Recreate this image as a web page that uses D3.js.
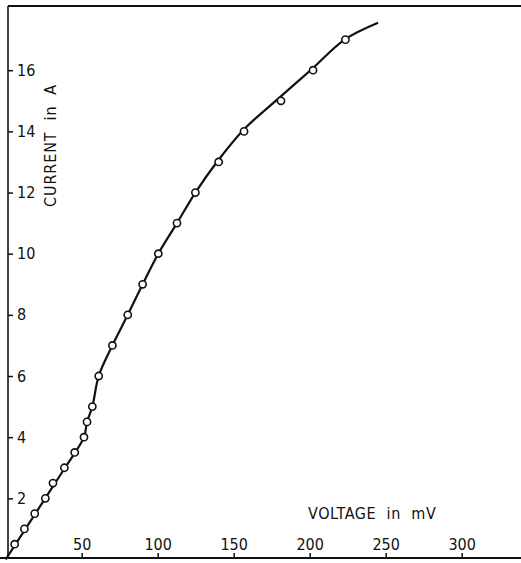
<!DOCTYPE html>
<html>
<head>
<meta charset="utf-8">
<script src="https://cdn.jsdelivr.net/npm/d3@7"></script>
<style>
  body { margin: 0; background: #fff; }
  text { font-family: "Liberation Sans Narrow", "Arial Narrow", "DejaVu Sans Condensed", sans-serif; fill: #111; }
</style>
</head>
<body>
<div id="chart"></div>
<script>
// measured points (voltage in mV, current in A)
var voltage = [5.9, 12.3, 19.1, 26.1, 31.1, 38.6, 45.4, 51.5, 53.5, 57.0,
               61.2, 70.2, 80.3, 90.1, 100.4, 112.7, 124.8, 140.1, 156.8, 181.1, 202.2, 223.5];
var current = [0.5, 1, 1.5, 2, 2.5, 3, 3.5, 4, 4.5, 5,
               6, 7, 8, 9, 10, 11, 12, 13, 14, 15, 16, 17];

// hand drawn fit line
var fitVoltage = [0, 13, 26, 39, 51.5, 53.5, 57.0, 61.2, 70.2, 80.3, 90.1, 100.4, 112.7, 124.8, 139.6, 156.2, 179.5, 201.5, 223, 245];
var fitCurrent = [0, 1, 2, 3, 4, 4.5, 5, 6, 7, 8, 9, 10, 11, 12, 13.04, 14.04, 15.08, 16.04, 17, 17.55];

var xTicks = [50, 100, 150, 200, 250, 300];
var yTicks = [2, 4, 6, 8, 10, 12, 14, 16];

var width = 521, height = 563;

var svg = d3.select("#chart").append("svg")
    .attr("width", width)
    .attr("height", height);

var x = d3.scaleLinear().domain([0, 340]).range([5.7, 522.5]);
var y = d3.scaleLinear().domain([0, 18.1]).range([559.5, 6]);

// frame lines
svg.append("line").attr("x1", 8).attr("x2", 8).attr("y1", 6).attr("y2", 559)
    .attr("stroke", "#111").attr("stroke-width", 1.6);
svg.append("line").attr("x1", 8).attr("x2", 521).attr("y1", 6).attr("y2", 6)
    .attr("stroke", "#111").attr("stroke-width", 2);
svg.append("line").attr("x1", 0).attr("x2", 521).attr("y1", 558).attr("y2", 558)
    .attr("stroke", "#111").attr("stroke-width", 2);

var xAxis = svg.append("g")
    .attr("transform", "translate(0,558)")
    .call(d3.axisTop(x).tickValues(xTicks).tickSize(5).tickPadding(3));
xAxis.select(".domain").remove();
xAxis.selectAll("line").attr("stroke", "#111").attr("stroke-width", 1.5);
xAxis.selectAll("text").style("font-size", "16px").attr("fill", "#111");

var yAxis = svg.append("g")
    .attr("transform", "translate(8,0)")
    .call(d3.axisRight(y).tickValues(yTicks).tickSize(5).tickPadding(4));
yAxis.select(".domain").remove();
yAxis.selectAll("line").attr("stroke", "#111").attr("stroke-width", 1.5);
yAxis.selectAll("text").style("font-size", "16px").attr("fill", "#111");

svg.append("text")
    .attr("x", 308)
    .attr("y", 519)
    .style("font-size", "16px")
    .style("letter-spacing", "0.6px")
    .style("white-space", "pre")
    .text("VOLTAGE  in  mV");

svg.append("text")
    .attr("transform", "translate(56,207) rotate(-90)")
    .style("font-size", "16px")
    .style("letter-spacing", "0.9px")
    .style("white-space", "pre")
    .text("CURRENT  in  A");

var fit = d3.range(fitVoltage.length).map(function (i) {
    return [fitVoltage[i], fitCurrent[i]];
});

var line = d3.line()
    .x(function (d) { return x(d[0]); })
    .y(function (d) { return y(d[1]); })
    .curve(d3.curveCatmullRom.alpha(0.5));

svg.append("path")
    .datum(fit)
    .attr("d", line)
    .attr("fill", "none")
    .attr("stroke", "#111")
    .attr("stroke-width", 2.2);

svg.selectAll(".pt")
    .data(voltage)
    .enter()
    .append("circle")
    .attr("class", "pt")
    .attr("cx", function (d) { return x(d); })
    .attr("cy", function (d, i) { return y(current[i]); })
    .attr("r", 3.6)
    .attr("fill", "#fff")
    .attr("stroke", "#111")
    .attr("stroke-width", 1.6);
</script>
</body>
</html>
